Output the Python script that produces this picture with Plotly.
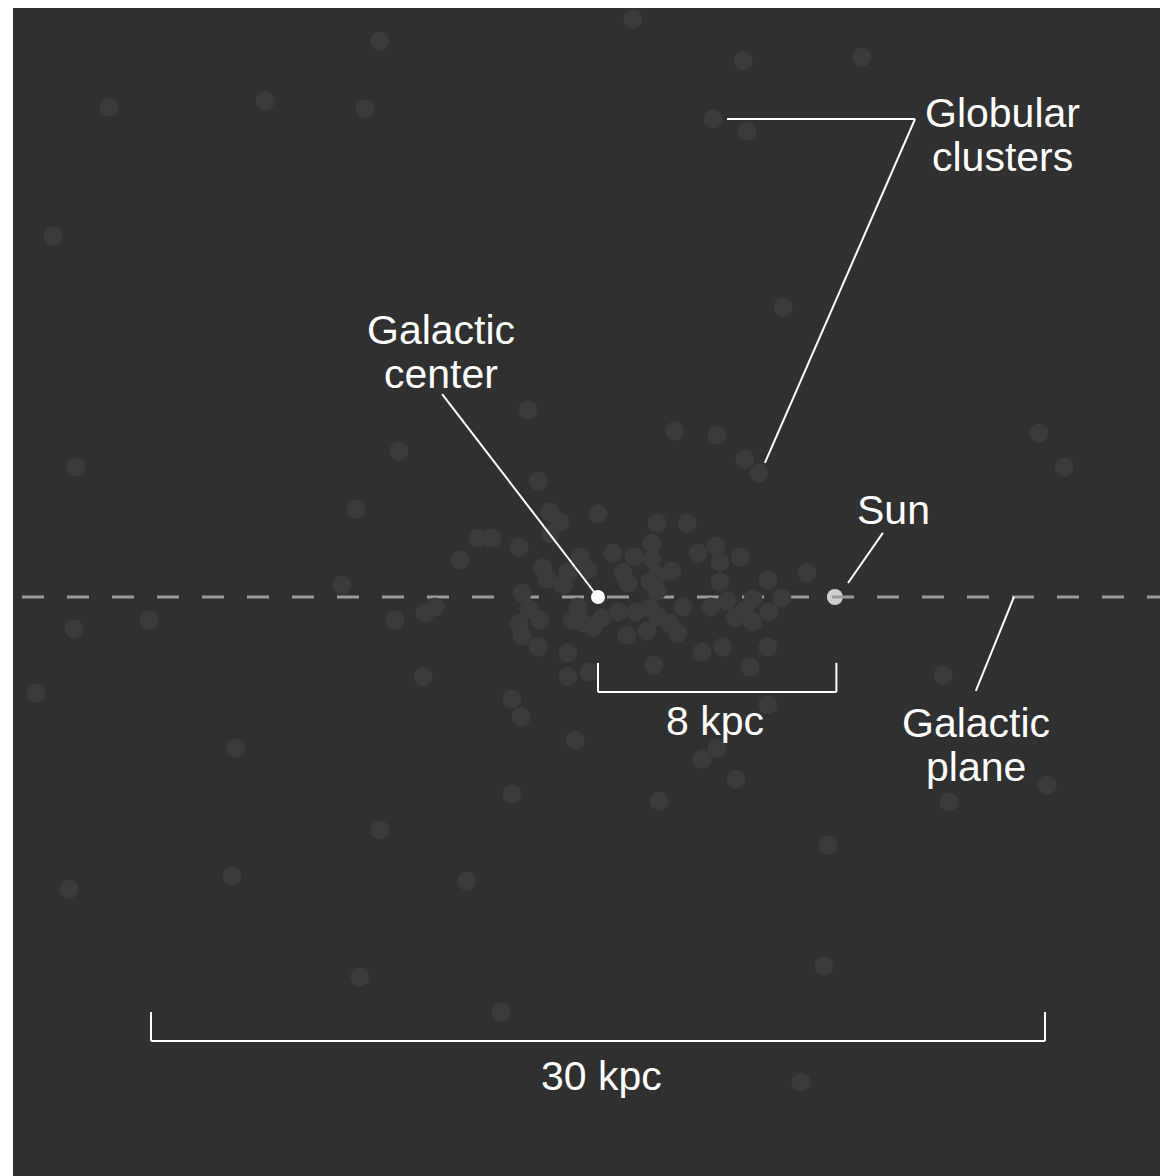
import plotly.graph_objects as go

# Globular cluster positions (kpc, galactocentric; x along plane, y perpendicular)
cluster_x = [1.17, -7.32, 4.87, 8.86, -16.41, -11.17, -7.82, 3.86, 5.00, -18.29,
             6.21, -2.35, 2.58, 3.99, 14.80, -6.68, -17.52, 4.93, 5.40, 15.64,
             -2.01, -8.12, -8.59, -15.07, -17.58, -18.86, -12.15, -7.32, -12.28, -17.75,
             -4.40, -7.99, -3.26, 6.81, 7.58, 7.72, 2.05, -2.89, 4.63, 3.49,
             3.99, -0.77, -2.58, -2.89, 5.70, 11.58, 11.78, 15.07, -5.87, -6.81,
             -5.81, -5.47, 7.01, -4.63, -4.03, -3.56, -2.65, 0.00, -1.61, -1.28,
             -1.61, 1.98, 2.99, -0.60, -0.34, 0.50, 1.21, 1.81, 1.81, 1.98,
             2.48, 0.84, 1.01, 1.74, 1.98, -1.85, -1.71, -1.17, -1.01, 3.36,
             3.96, 4.09, 4.77, 4.09, 5.70, -2.55, 6.17, 5.20, 4.33, 3.79,
             2.85, 4.93, 5.74, 4.60, 5.20, -2.32, -2.65, -1.95, -2.55, -0.67,
             -0.87, -0.50, -0.17, 0.13, 0.67, 1.28, 1.74, 2.01, 2.42, 2.68,
             1.64, 0.97, -2.01, -1.01, 3.49, 4.19, 5.70, 1.88, 5.10, -1.01,
             -0.30]
cluster_y = [19.40, 18.66, 17.99, 18.12, 16.44, 16.64, 16.38, 16.04, 15.64, 12.11,
             9.73, 6.28, 5.57, 5.44, 5.50, 4.90, 4.36, 4.63, 4.16, 4.36,
             3.89, 2.95, 0.40, -0.77, -1.07, -3.22, -5.07, -7.82, -9.36, -9.80,
             -9.53, -12.75, -13.93, -16.28, -12.38, -8.32, -6.85, -6.61, -6.11, -5.44,
             -5.07, -4.80, -4.03, -3.42, -3.62, -2.62, -6.88, -6.31, -2.68, -0.77,
             -0.54, -0.34, 0.81, 1.24, 1.98, 1.98, 1.68, 2.79, 2.85, 2.52,
             2.11, 2.48, 2.48, 1.34, 0.91, 1.48, 1.34, 1.81, 1.28, 0.74,
             0.87, 0.81, 0.47, 0.50, 0.20, 0.97, 0.60, 0.40, 0.84, 1.48,
             1.71, 1.17, 1.34, 0.50, 0.57, 0.13, -0.03, -0.07, -0.13, -0.34,
             -0.34, -0.44, -0.50, -0.70, -0.84, -0.40, -0.91, -0.77, -1.31, -0.34,
             -0.77, -0.87, -1.01, -0.70, -0.50, -0.50, -0.37, -0.67, -0.87, -1.21,
             -1.14, -1.28, -1.68, -1.88, -1.85, -1.68, -1.68, -2.28, -2.35, -2.68,
             -2.52]

galactic_center = (0.0, 0.0)
sun = (7.95, 0.0)
scale_bars_kpc = [8, 30]
scale_bar_labels = ["8 kpc", "30 kpc"]

# view window in kpc
X_RANGE = [-19.631, 19.128]
Y_RANGE = [-19.43, 19.765]

BG = "#303030"
DOT = "#3b3b3b"
WHITE = "#ffffff"
FONT = "Liberation Sans, Arial, Helvetica, sans-serif"

fig = go.Figure()

# Sun (drawn under the plane line)
fig.add_trace(go.Scatter(x=[sun[0]], y=[sun[1]], mode="markers",
                         marker=dict(size=16, color="#cfcfcf", line=dict(width=0)),
                         hoverinfo="skip", showlegend=False))
# Galactic plane
fig.add_trace(go.Scatter(x=[-19.33, X_RANGE[1]], y=[0, 0], mode="lines",
                         line=dict(color="#9a9a9a", width=3, dash="22px,23px"),
                         hoverinfo="skip", showlegend=False))
# Globular clusters
fig.add_trace(go.Scatter(x=cluster_x, y=cluster_y, mode="markers",
                         marker=dict(size=19, color=DOT, line=dict(width=0)),
                         hoverinfo="skip", showlegend=False))
# Galactic center
fig.add_trace(go.Scatter(x=[galactic_center[0]], y=[galactic_center[1]], mode="markers",
                         marker=dict(size=14, color=WHITE, line=dict(width=0)),
                         hoverinfo="skip", showlegend=False))

line_style = dict(color=WHITE, width=2)
shapes = []
def seg(x0, y0, x1, y1):
    shapes.append(dict(type="line", xref="x", yref="y", x0=x0, y0=y0, x1=x1, y1=y1,
                       line=line_style, layer="above"))

# leader lines
seg(-5.23, 6.81, galactic_center[0], galactic_center[1])
seg(4.33, 16.04, 10.64, 16.04)
seg(10.64, 16.04, 5.60, 4.50)
seg(8.39, 0.47, 9.56, 2.15)
seg(13.96, 0.0, 12.68, -3.15)

# scale bars
# 8 kpc: from galactic center to the sun's distance
b8 = scale_bars_kpc[0]
seg(0, -2.21, 0, -3.19)
seg(0, -3.19, b8, -3.19)
seg(b8, -3.19, b8, -2.21)
# 30 kpc centered on galactic center
b30 = scale_bars_kpc[1]
seg(-b30 / 2, -13.93, -b30 / 2, -14.90)
seg(-b30 / 2, -14.90, b30 / 2, -14.90)
seg(b30 / 2, -14.90, b30 / 2, -13.93)

def label(text, x, y):
    return dict(text=text, x=x, y=y, xref="x", yref="y", showarrow=False,
                xanchor="center", yanchor="middle",
                font=dict(family=FONT, size=41, color=WHITE))

annotations = [
    label("Galactic", -5.27, 8.97),
    label("center", -5.27, 7.47),
    label("Globular", 13.56, 16.25),
    label("clusters", 13.56, 14.77),
    label("Sun", 9.90, 2.93),
    label("Galactic", 12.68, -4.22),
    label("plane", 12.68, -5.70),
    label(scale_bar_labels[0], 3.93, -4.17),
    label(scale_bar_labels[1], 0.13, -16.08),
]

fig.update_layout(
    width=1160, height=1168,
    margin=dict(l=5, r=0, t=0, b=0, pad=0),
    paper_bgcolor="#ffffff",
    plot_bgcolor=BG,
    xaxis=dict(range=X_RANGE, visible=False, fixedrange=True),
    yaxis=dict(range=Y_RANGE, visible=False, fixedrange=True),
    shapes=shapes,
    annotations=annotations,
    showlegend=False,
)

fig.write_html("out.html")
